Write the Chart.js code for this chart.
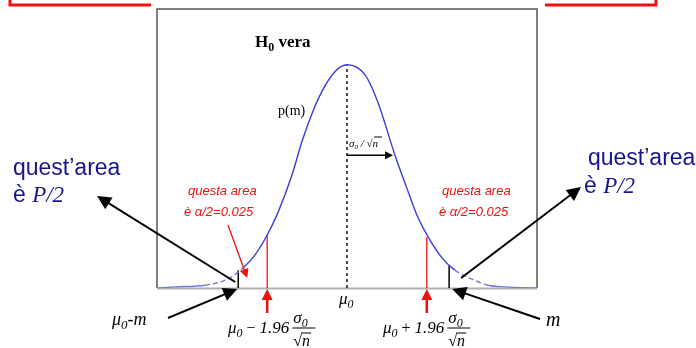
<!DOCTYPE html>
<html>
<head>
<meta charset="utf-8">
<script src="https://cdn.jsdelivr.net/npm/chart.js@4.4.1/dist/chart.umd.min.js"></script>
<style>
  body { margin: 0; background: #fff; }
  #wrap { width: 696px; height: 348px; position: relative; }
</style>
</head>
<body>
<div id="wrap"><canvas id="c"></canvas></div>
<script>
// curve p(m), x in sigma units from mu0, y density
var curveX = [-4.0, -3.62, -2.99, -2.51, -2.19, -1.94, -1.68, -1.45, -1.16, -0.95, -0.74, -0.53, -0.25, 0, 0.38, 0.65, 1.01, 1.26, 1.47, 1.71, 2.0, 2.27, 2.63, 2.97, 3.33, 4.0];
var curveY = [0, 0.002, 0.005, 0.016, 0.036, 0.059, 0.095, 0.136, 0.202, 0.262, 0.312, 0.352, 0.388, 0.4, 0.382, 0.333, 0.238, 0.179, 0.131, 0.091, 0.054, 0.032, 0.016, 0.005, 0.002, 0];

var critX = [-1.68, 1.68];   // mu0 -/+ 1.96 sigma0/sqrt(n)
var critY = [0.095, 0.091];
var mX = [-2.29, 2.15];      // mu0-m and m
var mY = [0.032, 0.040];
var mu0 = 0;
var peakY = 0.4;
var sigmaStep = 0.97;
var sigmaArrowY = 0.238;

var blue = "#3c3cdc";
var lightBlue = "#7878e0";
var red = "#f01010";
var navy = "#16168c";

function vline(x, y, color, width, dash) {
    return {
        data: [{ x: x, y: 0 }, { x: x, y: y }],
        showLine: true, pointRadius: 0,
        borderColor: color, borderWidth: width, borderDash: dash || []
    };
}

var datasets = [{
    data: curveX.map(function (x, i) { return { x: x, y: curveY[i] }; }),
    showLine: true, pointRadius: 0,
    borderColor: blue, borderWidth: 1.4,
    cubicInterpolationMode: "monotone",
    segment: {
        borderDash: function (ctx) {
            var mid = (ctx.p0.parsed.x + ctx.p1.parsed.x) / 2;
            return ((mid < -2.3 && mid > -2.9) || (mid > 2.2 && mid < 3.1)) ? [5, 3] : undefined;
        },
        borderColor: function (ctx) {
            var mid = (ctx.p0.parsed.x + ctx.p1.parsed.x) / 2;
            return (Math.abs(mid) > 2.2) ? lightBlue : undefined;
        }
    }
}];
critX.forEach(function (x, i) { datasets.push(vline(x, critY[i], red, 1.3)); });
mX.forEach(function (x, i) { datasets.push(vline(x, mY[i], "#000", 1.5)); });
datasets.push(vline(mu0, peakY, "#000", 1.4, [3, 3]));

function arrow(ctx, x1, y1, x2, y2, color, lw, head) {
    var a = Math.atan2(y2 - y1, x2 - x1);
    ctx.save();
    ctx.strokeStyle = color; ctx.fillStyle = color; ctx.lineWidth = lw;
    ctx.beginPath();
    ctx.moveTo(x1, y1);
    ctx.lineTo(x2 - Math.cos(a) * head * 0.8, y2 - Math.sin(a) * head * 0.8);
    ctx.stroke();
    var w = head * 0.5;
    ctx.beginPath();
    ctx.moveTo(x2, y2);
    ctx.lineTo(x2 - head * Math.cos(a) + w * Math.sin(a), y2 - head * Math.sin(a) - w * Math.cos(a));
    ctx.lineTo(x2 - head * Math.cos(a) - w * Math.sin(a), y2 - head * Math.sin(a) + w * Math.cos(a));
    ctx.closePath();
    ctx.fill();
    ctx.restore();
}

// parts: [text, font, color, dy]
function rich(ctx, x, y, parts) {
    ctx.textAlign = "left";
    ctx.textBaseline = "alphabetic";
    parts.forEach(function (p) {
        ctx.font = p[1];
        ctx.fillStyle = p[2];
        ctx.fillText(p[0], x, y + (p[3] || 0));
        x += ctx.measureText(p[0]).width;
    });
    return x;
}

function sqrtN(ctx, x, y, font) {
    ctx.font = font;
    ctx.fillStyle = "#000";
    ctx.fillText("\u221A", x, y);
    var w = ctx.measureText("\u221A").width;
    ctx.font = "italic " + font;
    ctx.fillText("n", x + w, y);
    var wn = ctx.measureText("n").width;
    ctx.strokeStyle = "#000"; ctx.lineWidth = 1;
    ctx.beginPath(); ctx.moveTo(x + w - 1, y - 13); ctx.lineTo(x + w + wn + 1, y - 13); ctx.stroke();
}

function formula(ctx, x, y, sign) {
    var serif = "'Liberation Serif', serif";
    var ex = rich(ctx, x, y, [
        ["\u03BC", "italic 17px " + serif, "#000"],
        ["0", "italic 12px " + serif, "#000", 4],
        [" " + sign + " ", "16px " + serif, "#000"],
        ["1.96", "italic 17px " + serif, "#000"]
    ]);
    var fx = ex + 3;
    rich(ctx, fx + 1, y - 10, [
        ["\u03C3", "italic 17px " + serif, "#000"],
        ["0", "italic 12px " + serif, "#000", 4]
    ]);
    ctx.strokeStyle = "#000"; ctx.lineWidth = 1;
    ctx.beginPath(); ctx.moveTo(fx, y - 5); ctx.lineTo(fx + 23, y - 5); ctx.stroke();
    sqrtN(ctx, fx + 1, y + 13, "16px " + serif);
}

var annot = {
    id: "annot",
    beforeDatasetsDraw: function (chart) {
        var ctx = chart.ctx, a = chart.chartArea;
        ctx.save();
        // red box fragments
        ctx.strokeStyle = red; ctx.lineWidth = 3;
        ctx.beginPath(); ctx.moveTo(10, 0); ctx.lineTo(10, 5); ctx.lineTo(151, 5); ctx.stroke();
        ctx.beginPath(); ctx.moveTo(545, 5); ctx.lineTo(656, 5); ctx.lineTo(656, 0); ctx.stroke();
        // frame
        ctx.strokeStyle = "#555"; ctx.lineWidth = 1.5;
        ctx.beginPath();
        ctx.moveTo(a.left, a.bottom); ctx.lineTo(a.left, a.top); ctx.lineTo(a.right, a.top); ctx.lineTo(a.right, a.bottom);
        ctx.stroke();
        ctx.strokeStyle = "#b0b0b0"; ctx.lineWidth = 2;
        ctx.beginPath(); ctx.moveTo(a.left, a.bottom + 0.5); ctx.lineTo(a.right, a.bottom + 0.5); ctx.stroke();
        ctx.restore();
    },
    afterDatasetsDraw: function (chart) {
        var ctx = chart.ctx, a = chart.chartArea;
        var xs = chart.scales.x, ys = chart.scales.y;
        var serif = "'Liberation Serif', serif";
        var sans = "'Liberation Sans', Arial, sans-serif";
        ctx.save();

        rich(ctx, 255, 47, [
            ["H", "bold 17px " + serif, "#000"],
            ["0", "bold 12px " + serif, "#000", 4],
            [" vera", "bold 17px " + serif, "#000"]
        ]);
        rich(ctx, 278, 115, [["p(m)", "14px " + serif, "#000"]]);

        // sigma0 / sqrt(n) arrow
        var x0 = xs.getPixelForValue(mu0), sy = ys.getPixelForValue(sigmaArrowY);
        rich(ctx, x0 + 2, 147, [
            ["\u03C3", "italic 11px " + serif, "#000"],
            ["0", "italic 7px " + serif, "#000", 2],
            [" / \u221An", "italic 11px " + serif, "#000"]
        ]);
        ctx.strokeStyle = "#000"; ctx.lineWidth = 1;
        ctx.beginPath(); ctx.moveTo(x0 + 27, 137); ctx.lineTo(x0 + 35, 137); ctx.stroke();
        arrow(ctx, x0, sy, xs.getPixelForValue(sigmaStep), sy, "#000", 1.5, 8);

        // red notes
        ctx.font = "italic 13px " + sans;
        ctx.fillStyle = red;
        ctx.textAlign = "left";
        ctx.fillText("questa area", 188, 195);
        ctx.fillText("\u00E8 \u03B1/2=0.025", 184, 216);
        ctx.fillText("questa area", 442, 195);
        ctx.fillText("\u00E8 \u03B1/2=0.025", 439, 216);
        arrow(ctx, 228, 225, xs.getPixelForValue(mX[0]) + 9, 278, red, 1.3, 9);

        // red arrows at critical values
        critX.forEach(function (x) {
            var px = xs.getPixelForValue(x);
            arrow(ctx, px, a.bottom + 25, px, a.bottom + 1, red, 2.5, 11);
        });

        // big blue notes
        rich(ctx, 13, 175, [["quest\u2019area", "23px " + sans, navy]]);
        rich(ctx, 13, 202, [["\u00E8 ", "23px " + sans, navy], ["P/2", "italic 23px " + serif, navy]]);
        rich(ctx, 588, 165, [["quest\u2019area", "23px " + sans, navy]]);
        rich(ctx, 584, 193, [["\u00E8 ", "23px " + sans, navy], ["P/2", "italic 23px " + serif, navy]]);

        // black arrows to the tails
        var mL = xs.getPixelForValue(mX[0]), mR = xs.getPixelForValue(mX[1]);
        arrow(ctx, mL - 3, a.bottom - 6, 97, 196, "#000", 2, 14);
        arrow(ctx, 168, 318, mL - 1, a.bottom + 1, "#000", 2, 14);
        arrow(ctx, mR + 12, a.bottom - 10, 581, 187, "#000", 2, 14);
        arrow(ctx, 540, 319, mR + 3, a.bottom + 1, "#000", 2, 14);

        // axis labels
        rich(ctx, 112, 325, [
            ["\u03BC", "italic 18px " + serif, "#000"],
            ["0", "italic 13px " + serif, "#000", 4],
            ["-m", "italic 18px " + serif, "#000"]
        ]);
        rich(ctx, x0 - 8, 304, [
            ["\u03BC", "italic 17px " + serif, "#000"],
            ["0", "italic 12px " + serif, "#000", 4]
        ]);
        rich(ctx, 546, 326, [["m", "italic 20px " + serif, "#000"]]);
        formula(ctx, 228, 333, "\u2212");
        formula(ctx, 383, 333, "+");

        ctx.restore();
    }
};

new Chart("c", {
    type: "scatter",
    data: { datasets: datasets },
    options: {
        responsive: true,
        maintainAspectRatio: false,
        animation: false,
        layout: { padding: { left: 157, top: 9, right: 159, bottom: 60 } },
        plugins: { legend: { display: false }, tooltip: { enabled: false } },
        scales: {
            x: { type: "linear", min: -4, max: 4, display: false },
            y: { min: 0, max: 0.5, display: false }
        }
    },
    plugins: [annot]
});
</script>
</body>
</html>
